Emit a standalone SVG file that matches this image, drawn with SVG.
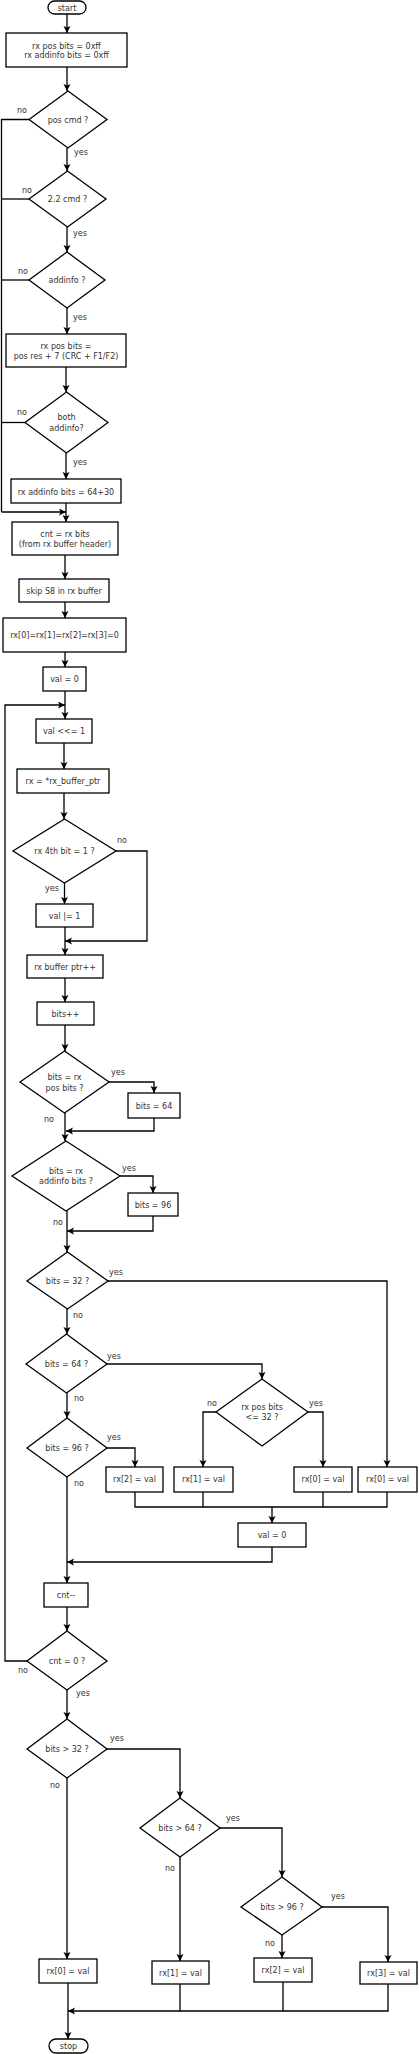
<svg xmlns="http://www.w3.org/2000/svg" width="419" height="2054" viewBox="0 0 419 2054">
<defs>
<style>
.n rect,.n polygon{fill:#fff;stroke:#000;stroke-width:1.3}
text{font-family:"DejaVu Sans",Verdana,sans-serif;font-size:8px;fill:#333;text-anchor:middle}
.l{text-anchor:start}
.c path{fill:none;stroke:#000;stroke-width:1.3}
.c path.a{marker-end:url(#ah)}
</style>
<marker id="ah" markerUnits="userSpaceOnUse" markerWidth="9" markerHeight="9" refX="7" refY="3.5" orient="auto">
<path d="M0,0 L7,3.5 L0,7 L1.6,3.5 z" fill="#000"/>
</marker>
</defs>
<rect width="419" height="2054" fill="#fff"/>
<g class="c">
<path class="a" d="M67,14V33"/>
<path class="a" d="M67,67V91"/>
<path class="a" d="M67,148V171"/>
<path class="a" d="M67,227V252"/>
<path class="a" d="M67,308V334"/>
<path class="a" d="M66,367V392"/>
<path class="a" d="M66,453V479"/>
<path class="a" d="M66,503V522"/>
<path d="M29,119.5H1.5V512"/>
<path d="M29,199H1.5"/>
<path d="M29,280H1.5"/>
<path d="M25,422.5H1.5"/>
<path class="a" d="M1.5,512H66"/>
<path class="a" d="M65,555V579"/>
<path class="a" d="M65,602V618"/>
<path class="a" d="M65,652V667"/>
<path class="a" d="M65,691V719"/>
<path class="a" d="M27,1661H5V705H65"/>
<path class="a" d="M64,743V769"/>
<path class="a" d="M64,793V819"/>
<path class="a" d="M64.5,883V904"/>
<path class="a" d="M116,851H147V941H65"/>
<path class="a" d="M65,927V955"/>
<path class="a" d="M65,978V1002"/>
<path class="a" d="M65,1025V1051"/>
<path class="a" d="M109,1082H154V1093"/>
<path class="a" d="M154,1118V1131H66"/>
<path class="a" d="M65,1113V1141"/>
<path class="a" d="M120,1176H153V1193"/>
<path class="a" d="M153,1216V1231H67"/>
<path class="a" d="M67,1211V1252"/>
<path class="a" d="M108,1281H387V1467"/>
<path class="a" d="M67,1309V1334"/>
<path class="a" d="M107,1364H262V1379"/>
<path class="a" d="M67,1393V1418"/>
<path class="a" d="M216,1412H203V1467"/>
<path class="a" d="M308,1412H323V1467"/>
<path class="a" d="M107,1448H135V1467"/>
<path class="a" d="M67,1477V1583"/>
<path d="M135,1492V1507H387V1492M203,1492V1507M323,1492V1507"/>
<path class="a" d="M272,1507V1523"/>
<path class="a" d="M272,1547V1562H67"/>
<path class="a" d="M67,1607V1631"/>
<path class="a" d="M67,1690V1719"/>
<path class="a" d="M107,1749H180V1798"/>
<path class="a" d="M67,1778V1959"/>
<path class="a" d="M220,1828H282V1877"/>
<path class="a" d="M180,1857V1961"/>
<path class="a" d="M322,1907H388V1962"/>
<path class="a" d="M282,1935V1958"/>
<path class="a" d="M68,1983V2039"/>
<path d="M180,1984V2011M283,1982V2011"/>
<path class="a" d="M388,1984V2011H68"/>
</g>
<g class="lbl">
<text class="l" x="17" y="113">no</text>
<text class="l" x="74" y="155">yes</text>
<text class="l" x="22" y="193">no</text>
<text class="l" x="73" y="236">yes</text>
<text class="l" x="18" y="274">no</text>
<text class="l" x="73" y="320">yes</text>
<text class="l" x="17" y="415">no</text>
<text class="l" x="73" y="465">yes</text>
<text class="l" x="117" y="843">no</text>
<text class="l" x="45" y="891">yes</text>
<text class="l" x="111" y="1075">yes</text>
<text class="l" x="44" y="1122">no</text>
<text class="l" x="122" y="1171">yes</text>
<text class="l" x="53" y="1225">no</text>
<text class="l" x="109" y="1275">yes</text>
<text class="l" x="73" y="1318">no</text>
<text class="l" x="107" y="1359">yes</text>
<text class="l" x="74" y="1401">no</text>
<text class="l" x="207" y="1406">no</text>
<text class="l" x="309" y="1406">yes</text>
<text class="l" x="107" y="1440">yes</text>
<text class="l" x="74" y="1486">no</text>
<text class="l" x="18" y="1673">no</text>
<text class="l" x="76" y="1696">yes</text>
<text class="l" x="110" y="1741">yes</text>
<text class="l" x="50" y="1788">no</text>
<text class="l" x="226" y="1821">yes</text>
<text class="l" x="165" y="1871">no</text>
<text class="l" x="331" y="1899">yes</text>
<text class="l" x="265" y="1946">no</text>
</g>
<g id="start" class="n"><rect x="48" y="1" width="38" height="13" rx="6.5"/><text x="67" y="10.5">start</text></g>
<g id="init" class="n"><rect x="6" y="33" width="121" height="34"/><text x="66.5" y="49">rx pos bits = 0xff</text><text x="66.5" y="58">rx addinfo bits = 0xff</text></g>
<g id="poscmd" class="n"><polygon points="68,91 107,119.5 68,148 29,119.5"/><text x="68" y="122.5">pos cmd ?</text></g>
<g id="cmd22" class="n"><polygon points="67.5,171 106,199 67.5,227 29,199"/><text x="67.5" y="202">2.2 cmd ?</text></g>
<g id="addinfo" class="n"><polygon points="67,252 105,280 67,308 29,280"/><text x="67" y="283">addinfo ?</text></g>
<g id="posbits" class="n"><rect x="6" y="334" width="120" height="33"/><text x="66" y="349">rx pos bits =</text><text x="66" y="359">pos res + 7 (CRC + F1/F2)</text></g>
<g id="both" class="n"><polygon points="66.5,392 108,422.5 66.5,453 25,422.5"/><text x="66.5" y="420">both</text><text x="66.5" y="431">addinfo?</text></g>
<g id="addbits" class="n"><rect x="11" y="479" width="110" height="24"/><text x="66" y="494.5">rx addinfo bits = 64+30</text></g>
<g id="cnt" class="n"><rect x="12" y="522" width="106" height="33"/><text x="65" y="537">cnt = rx bits</text><text x="65" y="547">(from rx buffer header)</text></g>
<g id="skip" class="n"><rect x="19" y="579" width="90" height="23"/><text x="64" y="594">skip S8 in rx buffer</text></g>
<g id="rxzero" class="n"><rect x="3" y="618" width="123" height="34"/><text x="64.5" y="638">rx[0]=rx[1]=rx[2]=rx[3]=0</text></g>
<g id="val0" class="n"><rect x="43" y="667" width="43" height="24"/><text x="64.5" y="682">val = 0</text></g>
<g id="shift" class="n"><rect x="36" y="719" width="56" height="24"/><text x="64" y="734">val &lt;&lt;= 1</text></g>
<g id="rxptr" class="n"><rect x="17" y="769" width="92" height="24"/><text x="63" y="784">rx = *rx_buffer_ptr</text></g>
<g id="bit4" class="n"><polygon points="64.5,819 116,851 64.5,883 13,851"/><text x="64.5" y="854">rx 4th bit = 1 ?</text></g>
<g id="valor" class="n"><rect x="36" y="904" width="57" height="23"/><text x="64.5" y="918.5">val |= 1</text></g>
<g id="ptrinc" class="n"><rect x="27" y="955" width="76" height="23"/><text x="65" y="969.5">rx buffer ptr++</text></g>
<g id="bitsinc" class="n"><rect x="37" y="1002" width="57" height="23"/><text x="65.5" y="1016.5">bits++</text></g>
<g id="eqpos" class="n"><polygon points="64.5,1051 109,1082 64.5,1113 20,1082"/><text x="64.5" y="1080">bits = rx</text><text x="64.5" y="1091">pos bits ?</text></g>
<g id="b64" class="n"><rect x="128" y="1093" width="52" height="25"/><text x="154" y="1108.5">bits = 64</text></g>
<g id="eqadd" class="n"><polygon points="66,1141 120,1176 66,1211 12,1176"/><text x="66" y="1174">bits = rx</text><text x="66" y="1184">addinfo bits ?</text></g>
<g id="b96" class="n"><rect x="128" y="1193" width="50" height="23"/><text x="153" y="1207.5">bits = 96</text></g>
<g id="eq32" class="n"><polygon points="67.5,1252 108,1281 67.5,1309 27,1281"/><text x="67.5" y="1284">bits = 32 ?</text></g>
<g id="eq64" class="n"><polygon points="66.5,1334 107,1364 66.5,1393 26,1364"/><text x="66.5" y="1367">bits = 64 ?</text></g>
<g id="le32" class="n"><polygon points="262,1379 308,1412 262,1446 216,1412"/><text x="262" y="1410">rx pos bits</text><text x="262" y="1420">&lt;= 32 ?</text></g>
<g id="eq96" class="n"><polygon points="67,1418 107,1448 67,1477 27,1448"/><text x="67" y="1451">bits = 96 ?</text></g>
<g id="a2" class="n"><rect x="106" y="1467" width="57" height="25"/><text x="134.5" y="1482">rx[2] = val</text></g>
<g id="a1" class="n"><rect x="174" y="1467" width="59" height="25"/><text x="203.5" y="1482">rx[1] = val</text></g>
<g id="a0" class="n"><rect x="294" y="1467" width="58" height="25"/><text x="323" y="1482">rx[0] = val</text></g>
<g id="a0b" class="n"><rect x="358" y="1467" width="59" height="25"/><text x="387.5" y="1482">rx[0] = val</text></g>
<g id="val0b" class="n"><rect x="238" y="1523" width="68" height="24"/><text x="272" y="1538">val = 0</text></g>
<g id="cntdec" class="n"><rect x="44" y="1583" width="44" height="24"/><text x="66" y="1598">cnt--</text></g>
<g id="cnt0" class="n"><polygon points="67,1631 107,1661 67,1690 27,1661"/><text x="67" y="1664">cnt = 0 ?</text></g>
<g id="gt32" class="n"><polygon points="67,1719 107,1749 67,1778 27,1749"/><text x="67" y="1752">bits &gt; 32 ?</text></g>
<g id="gt64" class="n"><polygon points="180,1798 220,1828 180,1857 140,1828"/><text x="180" y="1831">bits &gt; 64 ?</text></g>
<g id="gt96" class="n"><polygon points="282,1877 322,1907 282,1935 241,1907"/><text x="282" y="1910">bits &gt; 96 ?</text></g>
<g id="c0" class="n"><rect x="39" y="1959" width="58" height="24"/><text x="68" y="1974">rx[0] = val</text></g>
<g id="c1" class="n"><rect x="152" y="1961" width="57" height="23"/><text x="180.5" y="1975.5">rx[1] = val</text></g>
<g id="c2" class="n"><rect x="254" y="1958" width="58" height="24"/><text x="283" y="1973">rx[2] = val</text></g>
<g id="c3" class="n"><rect x="360" y="1962" width="57" height="22"/><text x="388.5" y="1976">rx[3] = val</text></g>
<g id="stop" class="n"><rect x="49" y="2039" width="39" height="14" rx="7"/><text x="68.5" y="2049">stop</text></g>
</svg>
